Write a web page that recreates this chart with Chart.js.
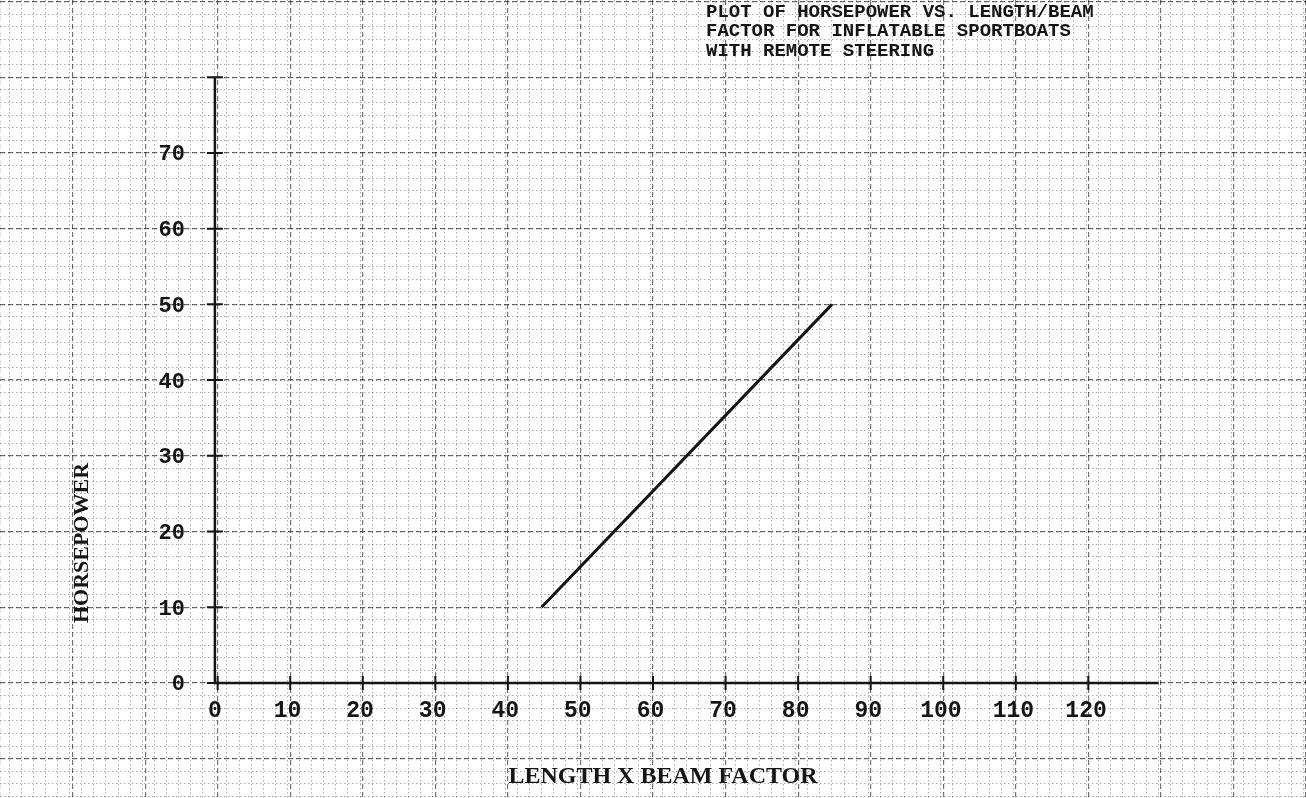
<!DOCTYPE html>
<html lang="en">
<head>
<meta charset="UTF-8">
<title>Horsepower vs length/beam</title>
<script src="https://cdn.jsdelivr.net/npm/chart.js@4.4.1/dist/chart.umd.min.js"></script>
<style>
  html, body { margin: 0; padding: 0; background: #fff; }
  #wrap { width: 1306px; height: 798px; }
</style>
</head>
<body>
<div id="wrap"><canvas id="chart" width="1306" height="798"></canvas></div>
<script>
// data
const lengthBeam = [45, 85]
const horsepower = [10, 50]

// labelled ticks
const xTickLabels = [0, 10, 20, 30, 40, 50, 60, 70, 80, 90, 100, 110, 120]
const yTickLabels = [0, 10, 20, 30, 40, 50, 60, 70]

// how far the drawn axes run
const xAxisEnd = 130
const yAxisEnd = 80

// the graph paper fills the whole page, so the scales run past the axes
const xView = [-29.6, 150.3]
const yView = [-15.2, 90.2]

const titleLines = [
  'PLOT OF HORSEPOWER VS. LENGTH/BEAM',
  'FACTOR FOR INFLATABLE SPORTBOATS',
  'WITH REMOTE STEERING'
]
const xTitle = 'LENGTH X BEAM FACTOR'
const yTitle = 'HORSEPOWER'

const ink = '#151515'

// axis lines, tick crosses and tick labels, placed by the scales
const axesPlugin = {
  id: 'axes',
  afterDatasetsDraw(chart) {
    const { ctx, scales: { x, y } } = chart
    const x0 = x.getPixelForValue(0), y0 = y.getPixelForValue(0)
    ctx.save()
    ctx.strokeStyle = ink
    ctx.lineWidth = 2.5
    ctx.beginPath()
    ctx.moveTo(x0 - 1, y0)
    ctx.lineTo(x.getPixelForValue(xAxisEnd), y0)
    ctx.moveTo(x0, y0 + 1)
    ctx.lineTo(x0, y.getPixelForValue(yAxisEnd))
    ctx.stroke()

    ctx.lineWidth = 2
    ctx.beginPath()
    x.ticks.forEach(t => {
      if (t.value < 0 || t.value > xAxisEnd) return
      const px = x.getPixelForValue(t.value)
      ctx.moveTo(px, y0 - 7)
      ctx.lineTo(px, y0 + 7)
    })
    y.ticks.forEach(t => {
      if (t.value < 0 || t.value > yAxisEnd) return
      const py = y.getPixelForValue(t.value)
      ctx.moveTo(x0 - 8, py)
      ctx.lineTo(x0 + 8, py)
    })
    ctx.stroke()

    ctx.fillStyle = ink
    ctx.font = 'bold 23px "Liberation Mono"'
    ctx.textAlign = 'center'
    ctx.textBaseline = 'top'
    xTickLabels.forEach(v => ctx.fillText(String(v), x.getPixelForValue(v), y0 + 17))

    ctx.font = 'bold 22px "Liberation Mono"'
    ctx.textAlign = 'right'
    ctx.textBaseline = 'middle'
    yTickLabels.forEach(v => ctx.fillText(String(v), x0 - 30, y.getPixelForValue(v) + 2))
    ctx.restore()
  }
}

// typed texts on the sheet
const textPlugin = {
  id: 'sheetText',
  afterDraw(chart) {
    const ctx = chart.ctx
    ctx.save()
    ctx.fillStyle = ink
    ctx.textBaseline = 'middle'

    ctx.font = 'bold 19px "Liberation Mono"'
    ctx.textAlign = 'left'
    titleLines.forEach((line, i) => ctx.fillText(line, 706, 12 + i * 19.5))

    ctx.font = 'bold 24px "Liberation Serif"'
    ctx.textAlign = 'center'
    ctx.fillText(xTitle, 663, 777)

    ctx.font = 'bold 22px "Liberation Serif"'
    ctx.translate(82, 543)
    ctx.rotate(-Math.PI / 2)
    ctx.fillText(yTitle, 0, 0)
    ctx.restore()
  }
}

function paperScale(axis, view, step, grid, dash) {
  return {
    type: 'linear',
    axis: axis,
    position: axis === 'x' ? 'bottom' : 'left',
    min: view[0],
    max: view[1],
    grid: Object.assign({ drawTicks: false }, grid),
    border: { display: false, dash: dash },
    ticks: { display: false, stepSize: step, includeBounds: false }
  }
}

const minorGrid = { color: 'rgba(0,0,0,0.32)', lineWidth: 1 }
const majorGrid = { color: 'rgba(0,0,0,0.55)', lineWidth: 1.2 }

const ctx = document.getElementById('chart').getContext('2d')

new Chart(ctx, {
  type: 'line',
  data: {
    datasets: [{
      label: 'Horsepower',
      data: lengthBeam.map((v, i) => ({ x: v, y: horsepower[i] })),
      borderColor: ink,
      borderWidth: 3,
      pointRadius: 0,
      fill: false,
      tension: 0
    }]
  },
  options: {
    responsive: false,
    animation: false,
    layout: { padding: 0 },
    plugins: {
      legend: { display: false },
      tooltip: { enabled: false },
      title: { display: false }
    },
    scales: {
      xMinor: paperScale('x', xView, 10 / 6, minorGrid, [1.5, 2.5]),
      yMinor: paperScale('y', yView, 10 / 6, minorGrid, [1.5, 2.5]),
      x: paperScale('x', xView, 10, majorGrid, [5, 3]),
      y: paperScale('y', yView, 10, majorGrid, [5, 3])
    }
  },
  plugins: [axesPlugin, textPlugin]
})
</script>
</body>
</html>
